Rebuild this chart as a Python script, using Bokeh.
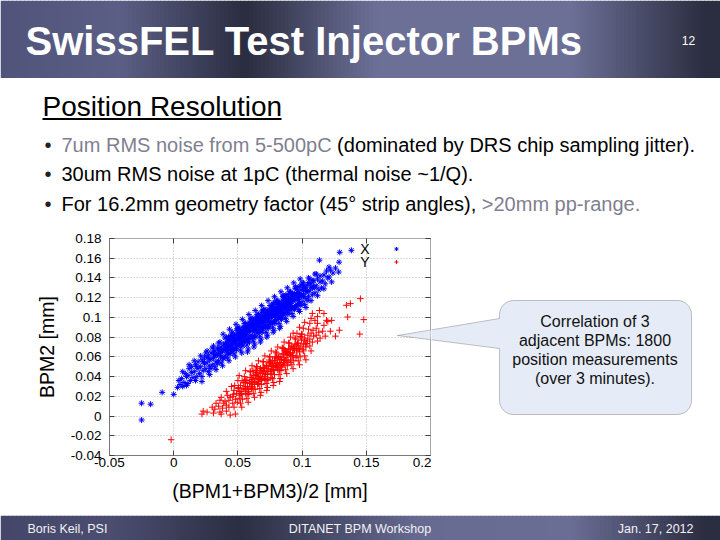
import math
from bokeh.plotting import figure
from bokeh.layouts import column, row
from bokeh.models import (Range1d, LinearAxis, FixedTicker, CustomJSTickFormatter,
                          Label, BoxAnnotation, PolyAnnotation, Legend, LegendItem)
from bokeh.embed import file_html
from bokeh.resources import INLINE

# ---------------- data ----------------
X_TICKS = [-0.05, 0.0, 0.05, 0.1, 0.15, 0.2]
Y_TICKS = [-0.04, -0.02, 0.0, 0.02, 0.04, 0.06, 0.08, 0.1, 0.12, 0.14, 0.16, 0.18]
X_LABEL = "(BPM1+BPM3)/2 [mm]"
Y_LABEL = "BPM2 [mm]"
SERIES = ["X", "Y"]

BLUE_POINTS = [
    (-0.025, 0.013), (-0.025, -0.004), (-0.018, 0.012), (-0.009, 0.024),
    (0.000, 0.022), (0.003, 0.029), (0.005, 0.032), (0.007, 0.030), (0.004, 0.036),
    (0.006, 0.038), (0.008, 0.034), (0.009, 0.043), (0.010, 0.031), (0.007, 0.045), (0.010, 0.040),
    (0.011, 0.041), (0.012, 0.048), (0.013, 0.036), (0.014, 0.044), (0.012, 0.052), (0.015, 0.039), (0.011, 0.033), (0.014, 0.050),
    (0.016, 0.045), (0.017, 0.052), (0.018, 0.040), (0.016, 0.056), (0.019, 0.048), (0.020, 0.043), (0.017, 0.036), (0.019, 0.055),
    (0.018, 0.050),
    (0.021, 0.050), (0.022, 0.057), (0.023, 0.046), (0.021, 0.061), (0.024, 0.053), (0.025, 0.048), (0.022, 0.040), (0.024, 0.060),
    (0.023, 0.055), (0.025, 0.064), (0.022, 0.035),
    (0.026, 0.054), (0.027, 0.061), (0.028, 0.050), (0.026, 0.066), (0.029, 0.058), (0.030, 0.052), (0.027, 0.045), (0.029, 0.064),
    (0.028, 0.057), (0.030, 0.069), (0.026, 0.059), (0.028, 0.042), (0.029, 0.048),
    (0.031, 0.059), (0.032, 0.066), (0.033, 0.055), (0.031, 0.071), (0.034, 0.062), (0.035, 0.056), (0.032, 0.050), (0.034, 0.069),
    (0.033, 0.062), (0.035, 0.074), (0.031, 0.064), (0.033, 0.047), (0.034, 0.053), (0.032, 0.061), (0.035, 0.066),
    (0.036, 0.063), (0.037, 0.070), (0.038, 0.059), (0.036, 0.075), (0.039, 0.067), (0.040, 0.061), (0.037, 0.054), (0.039, 0.073),
    (0.038, 0.066), (0.040, 0.079), (0.036, 0.068), (0.038, 0.051), (0.039, 0.058), (0.037, 0.065), (0.040, 0.070), (0.0365, 0.060),
    (0.0385, 0.083),
    (0.041, 0.068), (0.042, 0.075), (0.043, 0.064), (0.041, 0.080), (0.044, 0.072), (0.045, 0.066), (0.042, 0.059), (0.044, 0.078),
    (0.043, 0.071), (0.045, 0.084), (0.041, 0.073), (0.043, 0.056), (0.044, 0.063), (0.042, 0.070), (0.045, 0.075), (0.0415, 0.064),
    (0.0435, 0.088), (0.0425, 0.077), (0.0445, 0.069),
    (0.046, 0.073), (0.047, 0.080), (0.048, 0.069), (0.046, 0.085), (0.049, 0.077), (0.050, 0.071), (0.047, 0.063), (0.049, 0.083),
    (0.048, 0.076), (0.050, 0.089), (0.046, 0.078), (0.048, 0.060), (0.049, 0.067), (0.047, 0.075), (0.050, 0.080), (0.0465, 0.068),
    (0.0485, 0.093), (0.0475, 0.082), (0.0495, 0.073), (0.0455, 0.081),
    (0.051, 0.077), (0.052, 0.084), (0.053, 0.073), (0.051, 0.090), (0.054, 0.081), (0.055, 0.075), (0.052, 0.067), (0.054, 0.088),
    (0.053, 0.080), (0.055, 0.094), (0.051, 0.082), (0.053, 0.064), (0.054, 0.071), (0.052, 0.079), (0.055, 0.085), (0.0515, 0.072),
    (0.0535, 0.098), (0.0525, 0.087), (0.0545, 0.077), (0.0505, 0.086), (0.0535, 0.083),
    (0.056, 0.082), (0.057, 0.089), (0.058, 0.078), (0.056, 0.094), (0.059, 0.086), (0.060, 0.080), (0.057, 0.072), (0.059, 0.092),
    (0.058, 0.085), (0.060, 0.099), (0.056, 0.087), (0.058, 0.068), (0.059, 0.075), (0.057, 0.083), (0.060, 0.090), (0.0565, 0.077),
    (0.0585, 0.103), (0.0575, 0.091), (0.0595, 0.081), (0.0555, 0.090), (0.0585, 0.088), (0.0575, 0.065),
    (0.061, 0.086), (0.062, 0.093), (0.063, 0.082), (0.061, 0.099), (0.064, 0.090), (0.065, 0.084), (0.062, 0.076), (0.064, 0.097),
    (0.063, 0.089), (0.065, 0.103), (0.061, 0.091), (0.063, 0.073), (0.064, 0.080), (0.062, 0.088), (0.065, 0.094), (0.0615, 0.081),
    (0.0635, 0.107), (0.0625, 0.096), (0.0645, 0.086), (0.0605, 0.095), (0.0635, 0.092), (0.0625, 0.070),
    (0.066, 0.091), (0.067, 0.098), (0.068, 0.087), (0.066, 0.103), (0.069, 0.095), (0.070, 0.089), (0.067, 0.081), (0.069, 0.101),
    (0.068, 0.094), (0.070, 0.108), (0.066, 0.096), (0.068, 0.078), (0.069, 0.085), (0.067, 0.093), (0.070, 0.099), (0.0665, 0.086),
    (0.0685, 0.112), (0.0675, 0.101), (0.0695, 0.091), (0.0655, 0.100), (0.0685, 0.097), (0.0675, 0.075),
    (0.071, 0.095), (0.072, 0.102), (0.073, 0.091), (0.071, 0.108), (0.074, 0.099), (0.075, 0.093), (0.072, 0.085), (0.074, 0.106),
    (0.073, 0.098), (0.075, 0.112), (0.071, 0.100), (0.073, 0.082), (0.074, 0.089), (0.072, 0.097), (0.075, 0.103), (0.0715, 0.090),
    (0.0735, 0.117), (0.0725, 0.105), (0.0745, 0.095), (0.0705, 0.104), (0.0735, 0.101), (0.0725, 0.080),
    (0.076, 0.100), (0.077, 0.107), (0.078, 0.096), (0.076, 0.112), (0.079, 0.104), (0.080, 0.098), (0.077, 0.090), (0.079, 0.110),
    (0.078, 0.103), (0.080, 0.117), (0.076, 0.105), (0.078, 0.087), (0.079, 0.094), (0.077, 0.102), (0.080, 0.108), (0.0765, 0.095),
    (0.0785, 0.121), (0.0775, 0.110), (0.0795, 0.100), (0.0755, 0.109), (0.0785, 0.106), (0.0775, 0.085),
    (0.081, 0.104), (0.082, 0.111), (0.083, 0.100), (0.081, 0.117), (0.084, 0.108), (0.085, 0.102), (0.082, 0.094), (0.084, 0.115),
    (0.083, 0.107), (0.085, 0.121), (0.081, 0.109), (0.083, 0.091), (0.084, 0.098), (0.082, 0.106), (0.085, 0.112), (0.0815, 0.099),
    (0.0835, 0.126), (0.0825, 0.114), (0.0845, 0.104), (0.0805, 0.113), (0.0835, 0.110), (0.0825, 0.089),
    (0.086, 0.109), (0.087, 0.116), (0.088, 0.105), (0.086, 0.121), (0.089, 0.113), (0.090, 0.107), (0.087, 0.099), (0.089, 0.119),
    (0.088, 0.112), (0.090, 0.126), (0.086, 0.114), (0.088, 0.096), (0.089, 0.103), (0.087, 0.111), (0.090, 0.117), (0.0865, 0.104),
    (0.0885, 0.130), (0.0875, 0.119), (0.0895, 0.109), (0.0855, 0.118),
    (0.091, 0.114), (0.092, 0.121), (0.093, 0.110), (0.091, 0.126), (0.094, 0.118), (0.095, 0.112), (0.092, 0.104), (0.094, 0.124),
    (0.093, 0.117), (0.095, 0.131), (0.091, 0.119), (0.093, 0.101), (0.094, 0.108), (0.092, 0.116), (0.095, 0.122), (0.0915, 0.109),
    (0.0935, 0.135), (0.0925, 0.124),
    (0.096, 0.118), (0.097, 0.125), (0.098, 0.114), (0.096, 0.130), (0.099, 0.122), (0.100, 0.116), (0.097, 0.108), (0.099, 0.128),
    (0.098, 0.121), (0.100, 0.135), (0.096, 0.123), (0.098, 0.106), (0.099, 0.112), (0.097, 0.120), (0.0965, 0.113), (0.0985, 0.139),
    (0.101, 0.123), (0.102, 0.130), (0.103, 0.119), (0.101, 0.135), (0.104, 0.127), (0.105, 0.121), (0.102, 0.113), (0.104, 0.133),
    (0.103, 0.126), (0.105, 0.140), (0.101, 0.128), (0.103, 0.110), (0.1045, 0.117),
    (0.106, 0.127), (0.107, 0.134), (0.108, 0.123), (0.106, 0.139), (0.109, 0.131), (0.110, 0.125), (0.107, 0.117), (0.109, 0.137),
    (0.108, 0.130), (0.110, 0.144),
    (0.111, 0.132), (0.112, 0.139), (0.113, 0.128), (0.111, 0.144), (0.114, 0.136), (0.115, 0.130), (0.112, 0.122), (0.114, 0.142),
    (0.116, 0.137), (0.117, 0.143), (0.118, 0.134), (0.119, 0.147), (0.117, 0.129), (0.120, 0.140),
    (0.121, 0.141), (0.122, 0.148), (0.123, 0.136), (0.124, 0.145), (0.121, 0.151),
    (0.1135, 0.158), (0.1288, 0.156), (0.1293, 0.166), (0.1384, 0.168), (0.1285, 0.146), (0.126, 0.150),
    # dense core
    (0.0403, 0.073), (0.0418, 0.0665), (0.0427, 0.080), (0.0441, 0.0716), (0.0452, 0.0806), (0.0463, 0.0667),
    (0.0471, 0.0774), (0.0486, 0.0718), (0.0494, 0.0885), (0.0507, 0.0768), (0.0518, 0.0848), (0.0526, 0.0745),
    (0.0539, 0.0827), (0.0548, 0.0906), (0.0556, 0.0803), (0.0569, 0.0875), (0.0577, 0.0783), (0.0588, 0.0923),
    (0.0596, 0.087), (0.0604, 0.0978), (0.0613, 0.0796), (0.0622, 0.0934), (0.0631, 0.0863), (0.0639, 0.100),
    (0.0648, 0.0909), (0.0657, 0.0997), (0.0663, 0.0853), (0.0672, 0.0961), (0.0681, 0.0899), (0.0689, 0.1067),
    (0.0697, 0.0944), (0.0703, 0.102), (0.0712, 0.0918), (0.0719, 0.0995), (0.0728, 0.1073), (0.0737, 0.0971),
    (0.0743, 0.1037), (0.0752, 0.0945), (0.0761, 0.1084), (0.0768, 0.103), (0.0776, 0.1138), (0.0784, 0.0955),
    (0.0791, 0.1092), (0.0798, 0.1018), (0.0806, 0.1156), (0.0813, 0.1062), (0.0822, 0.115), (0.0829, 0.1007),
    (0.0837, 0.1114), (0.0846, 0.1053), (0.0853, 0.1219), (0.0861, 0.1097), (0.0869, 0.1174), (0.0877, 0.1072),
    (0.0884, 0.1148), (0.0893, 0.1226), (0.0902, 0.1125), (0.0911, 0.1193), (0.0919, 0.1101), (0.0928, 0.1239),
    (0.0937, 0.1187), (0.0946, 0.1296), (0.0955, 0.1114), (0.0964, 0.1253), (0.0973, 0.1181), (0.0982, 0.1319),
    (0.0991, 0.1228), (0.1003, 0.1319), (0.1014, 0.1209), (0.1026, 0.130), (0.1038, 0.1261), (0.1052, 0.1354),
    (0.1067, 0.1308), (0.1083, 0.1373), (0.1098, 0.1307),
    (0.0412, 0.0669), (0.0436, 0.0791), (0.0457, 0.0671), (0.0478, 0.0791), (0.0499, 0.088), (0.0513, 0.0793),
    (0.0531, 0.076), (0.0552, 0.0879), (0.0573, 0.0759), (0.0592, 0.0947), (0.0609, 0.0892), (0.0627, 0.0879),
    (0.0644, 0.0975), (0.0668, 0.0877), (0.0685, 0.1043), (0.0708, 0.0994), (0.0724, 0.0909), (0.0747, 0.1051),
    (0.0764, 0.1017), (0.0781, 0.1152), (0.0802, 0.1032), (0.0818, 0.1147), (0.0834, 0.1022), (0.0857, 0.1143),
    (0.0873, 0.1228), (0.0889, 0.1143), (0.0907, 0.111), (0.0924, 0.1225), (0.0941, 0.1101), (0.0959, 0.1288),
    (0.0977, 0.1235), (0.0996, 0.1222),
]

RED_POINTS = [
    (-0.002, -0.024),
    (0.022, 0.002), (0.023, 0.005), (0.026, 0.004),
    (0.030, 0.009), (0.032, 0.007), (0.033, 0.013), (0.031, 0.003),
    (0.035, 0.010), (0.036, 0.004), (0.037, 0.002), (0.036, 0.016), (0.038, 0.008), (0.039, 0.013), (0.037, 0.019),
    (0.040, 0.015), (0.041, 0.005), (0.042, 0.021), (0.043, 0.016), (0.041, 0.011), (0.044, 0.001), (0.041, 0.025), (0.043, 0.009),
    (0.044, 0.019),
    (0.046, 0.020), (0.046, 0.013), (0.047, 0.026), (0.045, 0.030), (0.048, 0.017), (0.047, 0.009), (0.048, 0.002), (0.049, 0.023),
    (0.0475, 0.031), (0.0495, 0.014), (0.0465, 0.022),
    (0.051, 0.025), (0.051, 0.018), (0.052, 0.031), (0.050, 0.036), (0.053, 0.022), (0.052, 0.013), (0.054, 0.028), (0.051, 0.041),
    (0.053, 0.009), (0.0545, 0.034), (0.0525, 0.025), (0.0505, 0.029), (0.0535, 0.017),
    (0.056, 0.030), (0.056, 0.023), (0.057, 0.036), (0.055, 0.040), (0.058, 0.027), (0.057, 0.018), (0.059, 0.033), (0.056, 0.046),
    (0.058, 0.014), (0.0595, 0.039), (0.0575, 0.030), (0.0555, 0.034), (0.0585, 0.022), (0.0565, 0.027), (0.0595, 0.045),
    (0.061, 0.035), (0.061, 0.028), (0.062, 0.041), (0.060, 0.045), (0.063, 0.032), (0.062, 0.023), (0.064, 0.038), (0.061, 0.051),
    (0.063, 0.019), (0.0645, 0.044), (0.0625, 0.035), (0.0605, 0.039), (0.0635, 0.027), (0.0615, 0.032), (0.0645, 0.050),
    (0.0635, 0.041), (0.0605, 0.030),
    (0.066, 0.040), (0.066, 0.033), (0.067, 0.046), (0.065, 0.050), (0.068, 0.037), (0.067, 0.028), (0.069, 0.043), (0.066, 0.056),
    (0.068, 0.024), (0.0695, 0.049), (0.0675, 0.040), (0.0655, 0.044), (0.0685, 0.032), (0.0665, 0.037), (0.0695, 0.055),
    (0.0685, 0.046), (0.0655, 0.035), (0.0675, 0.021),
    (0.071, 0.045), (0.071, 0.038), (0.072, 0.051), (0.070, 0.055), (0.073, 0.042), (0.072, 0.033), (0.074, 0.048), (0.071, 0.061),
    (0.073, 0.029), (0.0745, 0.054), (0.0725, 0.045), (0.0705, 0.049), (0.0735, 0.037), (0.0715, 0.042), (0.0745, 0.060),
    (0.0735, 0.051), (0.0705, 0.040), (0.0725, 0.026),
    (0.076, 0.050), (0.076, 0.043), (0.077, 0.056), (0.075, 0.060), (0.078, 0.047), (0.077, 0.038), (0.079, 0.053), (0.076, 0.066),
    (0.078, 0.034), (0.0795, 0.059), (0.0775, 0.050), (0.0755, 0.054), (0.0785, 0.042), (0.0765, 0.047), (0.0795, 0.065),
    (0.0785, 0.056), (0.0755, 0.045), (0.0775, 0.031),
    (0.081, 0.054), (0.081, 0.047), (0.082, 0.060), (0.080, 0.064), (0.083, 0.051), (0.082, 0.042), (0.084, 0.057), (0.081, 0.070),
    (0.083, 0.038), (0.0845, 0.063), (0.0825, 0.054), (0.0805, 0.058), (0.0835, 0.046), (0.0815, 0.051), (0.0845, 0.069),
    (0.0835, 0.060), (0.0805, 0.049), (0.0825, 0.035),
    (0.086, 0.059), (0.086, 0.052), (0.087, 0.065), (0.085, 0.069), (0.088, 0.056), (0.087, 0.047), (0.089, 0.062), (0.086, 0.075),
    (0.088, 0.043), (0.0895, 0.068), (0.0875, 0.059), (0.0855, 0.063), (0.0885, 0.051), (0.0865, 0.056), (0.0895, 0.074),
    (0.0885, 0.065), (0.0855, 0.054),
    (0.091, 0.064), (0.091, 0.057), (0.092, 0.070), (0.090, 0.074), (0.093, 0.061), (0.092, 0.052), (0.094, 0.067), (0.091, 0.080),
    (0.093, 0.048), (0.0945, 0.073), (0.0925, 0.064), (0.0905, 0.068), (0.0935, 0.056), (0.0915, 0.061), (0.0945, 0.079),
    (0.0935, 0.070),
    (0.096, 0.068), (0.096, 0.061), (0.097, 0.074), (0.095, 0.078), (0.098, 0.065), (0.097, 0.056), (0.099, 0.071), (0.096, 0.084),
    (0.098, 0.052), (0.0995, 0.077), (0.0975, 0.068), (0.0955, 0.072), (0.0985, 0.060), (0.0995, 0.083),
    (0.101, 0.073), (0.101, 0.066), (0.102, 0.079), (0.100, 0.083), (0.103, 0.070), (0.102, 0.061), (0.104, 0.076), (0.101, 0.089),
    (0.103, 0.057), (0.1045, 0.082), (0.1025, 0.073),
    (0.106, 0.078), (0.106, 0.071), (0.107, 0.084), (0.105, 0.088), (0.108, 0.075), (0.107, 0.066), (0.109, 0.081), (0.106, 0.094),
    (0.1085, 0.087),
    (0.111, 0.082), (0.112, 0.076), (0.111, 0.089), (0.113, 0.085), (0.114, 0.079), (0.112, 0.094),
    (0.116, 0.086), (0.117, 0.092), (0.118, 0.081), (0.119, 0.097),
    (0.098, 0.090), (0.102, 0.095), (0.107, 0.099), (0.110, 0.097), (0.112, 0.101), (0.117, 0.104), (0.120, 0.096), (0.123, 0.097),
    (0.129, 0.087), (0.122, 0.086), (0.126, 0.081), (0.108, 0.104), (0.093, 0.084), (0.1135, 0.107),
    (0.1454, 0.119), (0.1376, 0.114), (0.1345, 0.1123), (0.148, 0.0978), (0.1449, 0.0831), (0.1355, 0.1004),
    # dense core
    (0.0502, 0.0278), (0.0517, 0.0212), (0.0533, 0.0357), (0.0549, 0.0273), (0.0562, 0.0365), (0.0578, 0.023),
    (0.0591, 0.0342), (0.0604, 0.0285), (0.0617, 0.0457), (0.0629, 0.0339), (0.0641, 0.042), (0.0653, 0.0321),
    (0.0664, 0.0402), (0.0676, 0.0483), (0.0688, 0.0385), (0.0699, 0.0455), (0.0711, 0.0367), (0.0722, 0.0507),
    (0.0733, 0.0457), (0.0744, 0.0568), (0.0756, 0.0389), (0.0767, 0.053), (0.0778, 0.046), (0.0789, 0.0601),
    (0.0801, 0.0512), (0.0812, 0.0602), (0.0823, 0.0463), (0.0834, 0.0573), (0.0846, 0.0515), (0.0857, 0.0685),
    (0.0868, 0.0566), (0.0879, 0.0646), (0.0891, 0.0547), (0.0903, 0.0629), (0.0915, 0.071), (0.0927, 0.0612),
    (0.0939, 0.0683), (0.0952, 0.0595), (0.0964, 0.0737), (0.0977, 0.0689), (0.0991, 0.0802), (0.1006, 0.0677),
    (0.1021, 0.0771), (0.1037, 0.0736),
    (0.0524, 0.0229), (0.0556, 0.0359), (0.0585, 0.0247), (0.0611, 0.0371), (0.0635, 0.0464), (0.0659, 0.0387),
    (0.0682, 0.0359), (0.0705, 0.0481), (0.0728, 0.0363), (0.0751, 0.0554), (0.0773, 0.0505), (0.0795, 0.0496),
    (0.0817, 0.0597), (0.0839, 0.0498), (0.0862, 0.067), (0.0884, 0.0621), (0.0908, 0.0544), (0.0933, 0.0687),
    (0.0958, 0.0661), (0.0984, 0.0806),
]

BLUE_X = [pt[0] for pt in BLUE_POINTS]
BLUE_Y = [pt[1] for pt in BLUE_POINTS]
RED_X = [pt[0] for pt in RED_POINTS]
RED_Y = [pt[1] for pt in RED_POINTS]

SLIDE_TITLE = "SwissFEL Test Injector BPMs"
PAGE_NO = "12"
SECTION = "Position Resolution"
CALLOUT_LINES = ["Correlation of 3", "adjacent BPMs: 1800", "position measurements", "(over 3 minutes)."]
FOOTER = ["Boris Keil, PSI", "DITANET BPM Workshop", "Jan. 17, 2012"]

FONT = "Liberation Sans"
GRAY = "#7f7f90"

X_MIN, X_MAX = -0.05, 0.2
Y_MIN, Y_MAX = -0.04, 0.18
FRAME_L, FRAME_R, FRAME_T, FRAME_B = 109, 430, 238, 455   # page pixels of the plot frame


# ---------------- helpers ----------------
def hex2rgb(h):
    return tuple(int(h[i:i + 2], 16) for i in (1, 3, 5))


def grad(stops, x):
    for (x0, c0), (x1, c1) in zip(stops[:-1], stops[1:]):
        if x0 <= x <= x1:
            t = (x - x0) / (x1 - x0) if x1 > x0 else 0
            a, b = hex2rgb(c0), hex2rgb(c1)
            return "#%02x%02x%02x" % tuple(int(round(a[k] + (b[k] - a[k]) * t)) for k in range(3))
    return stops[-1][1]


def deco_fig(x0, x1, y0, y1, **kw):
    opts = dict(min_border=0)
    opts.update(kw)
    f = figure(width=x1 - x0, height=y1 - y0, x_range=Range1d(x0, x1), y_range=Range1d(y1, y0),
               output_backend="svg", toolbar_location=None, title=None,
               x_axis_type=None, y_axis_type=None, outline_line_color=None,
               background_fill_color="white", border_fill_color="white", **opts)
    f.grid.visible = False
    return f


def add_label(f, x, y, text, size, color="black", bold=False, align="left", page=False):
    kw = dict(x_range_name="page", y_range_name="page") if page else {}
    f.add_layout(Label(x=x, y=y, text=text, text_font=FONT, text_font_size=f"{size}px",
                       text_color=color, text_font_style="bold" if bold else "normal",
                       text_align=align, text_baseline="middle", **kw))


def band(f, stops, y0, y1, step=4):
    lefts = list(range(0, 720, step))
    f.quad(left=lefts, right=[v + step + 0.6 for v in lefts], top=[y0] * len(lefts),
           bottom=[y1] * len(lefts), fill_color=[grad(stops, v + step / 2) for v in lefts],
           line_color=None)


# ---------------- header ----------------
HEADER_STOPS = [(0, "#50547a"), (120, "#5b5f85"), (245, "#2a2c3f"), (375, "#6c7097"),
                (570, "#6c7097"), (705, "#2b2d40"), (720, "#2b2d40")]
FOOTER_STOPS = [(0, "#44476a"), (110, "#4b4e70"), (240, "#2c2e43"), (420, "#676b92"),
                (570, "#6a6e95"), (705, "#2b2d40"), (720, "#2b2d40")]

header = deco_fig(0, 720, 0, 78)
band(header, HEADER_STOPS, 0, 78)
add_label(header, 25, 40, SLIDE_TITLE, 40, color="white", bold=True)
add_label(header, 688, 40, PAGE_NO, 12, color="white", align="center")

# ---------------- text block ----------------
text = deco_fig(0, 720, 78, 228)
add_label(text, 42, 106, SECTION, 28)
text.add_layout(BoxAnnotation(left=42, right=281, top=117.5, bottom=119.5,
                              fill_color="black", fill_alpha=1, line_color=None))
BULLET_Y = [144, 173.5, 203]
for by in BULLET_Y:
    add_label(text, 44, by, "\u2022", 20, color="#222222")
add_label(text, 61, BULLET_Y[0], "7um RMS noise from 5-500pC", 20, color=GRAY)
add_label(text, 336.6, BULLET_Y[0], "(dominated by DRS chip sampling jitter).", 20)
add_label(text, 61, BULLET_Y[1], "30um RMS noise at 1pC (thermal noise ~1/Q).", 20)
add_label(text, 61, BULLET_Y[2], "For 16.2mm geometry factor (45\u00b0 strip angles),", 20)
add_label(text, 481.3, BULLET_Y[2], ">20mm pp-range.", 20, color=GRAY)

# ---------------- scatter plot (page x 0..431, y 228..515) ----------------
p = figure(width=431, height=287,
           x_range=Range1d(X_MIN, X_MAX), y_range=Range1d(Y_MIN, Y_MAX),
           output_backend="svg", toolbar_location=None, title=None,
           min_border_left=FRAME_L, min_border_right=1, min_border_top=10, min_border_bottom=60,
           background_fill_color="white", border_fill_color="white",
           outline_line_color="#9c9c9c")
p.extra_x_ranges = {"page": Range1d(FRAME_L, FRAME_R)}
p.extra_y_ranges = {"page": Range1d(FRAME_B, FRAME_T)}

fmt = CustomJSTickFormatter(code="return String(Math.round(tick*1000)/1000);")
blank = CustomJSTickFormatter(code="return '';")

xa = p.xaxis[0]
ya = p.yaxis[0]
xa.ticker = FixedTicker(ticks=X_TICKS)
ya.ticker = FixedTicker(ticks=Y_TICKS)
xa.formatter = fmt
ya.formatter = fmt
xa.axis_label = X_LABEL
ya.axis_label = Y_LABEL
for ax in (xa, ya):
    ax.major_tick_in = 5
    ax.major_tick_out = 0
    ax.minor_tick_line_color = None
    ax.axis_line_color = "#7a7a7a"
    ax.major_tick_line_color = "#404040"
    ax.major_label_text_font = FONT
    ax.major_label_text_font_size = "13.5px"
    ax.major_label_text_color = "black"
    ax.axis_label_text_font = FONT
    ax.axis_label_text_font_size = "19.5px"
    ax.axis_label_text_font_style = "normal"
    ax.axis_label_text_color = "black"
xa.major_label_standoff = 2
xa.axis_label_standoff = 10
ya.major_label_standoff = 8
ya.axis_label_standoff = 10

for place, ticks in (("above", X_TICKS), ("right", Y_TICKS)):
    ax = LinearAxis(ticker=FixedTicker(ticks=ticks), formatter=blank,
                    major_tick_in=5, major_tick_out=0, minor_tick_line_color=None,
                    axis_line_color="#a8a8a8", major_tick_line_color="#404040",
                    major_label_text_font_size="0px", major_label_standoff=0)
    p.add_layout(ax, place)

p.xgrid.ticker = FixedTicker(ticks=X_TICKS)
p.ygrid.ticker = FixedTicker(ticks=Y_TICKS)
for g in (p.xgrid, p.ygrid):
    g.grid_line_color = "#b4b4b4"
    g.grid_line_dash = "1 2"
    g.grid_line_width = 1

# callout shape (page coordinates), shared by the plot and the panel to its right
L, R, T, B, r = 499, 691, 300, 414, 14
CX, CY = [L, 397, L, L], [318, 335, 348, B - r]


def arc(cx, cy, a0, a1, n=8):
    for k in range(1, n + 1):
        a = math.radians(a0 + (a1 - a0) * k / n)
        CX.append(cx + r * math.cos(a))
        CY.append(cy + r * math.sin(a))


arc(L + r, B - r, 180, 90)
CX.append(R - r); CY.append(B)
arc(R - r, B - r, 90, 0)
CX.append(R); CY.append(T + r)
arc(R - r, T + r, 0, -90)
CX.append(L + r); CY.append(T)
arc(L + r, T + r, -90, -180)

rb = p.scatter(BLUE_X, BLUE_Y, marker="asterisk", size=6, line_color="#0000ff", line_width=1)
rr = p.scatter(RED_X, RED_Y, marker="cross", size=6.5, line_color="#ff0000", line_width=1)

# pointer part of the callout that lies inside the plot frame (page px -> plot units)
CX_PLOT = [X_MIN + (v - FRAME_L) / (FRAME_R - FRAME_L) * (X_MAX - X_MIN) for v in CX]
CY_PLOT = [Y_MIN + (FRAME_B - v) / (FRAME_B - FRAME_T) * (Y_MAX - Y_MIN) for v in CY]
p.add_layout(PolyAnnotation(xs=CX_PLOT, ys=CY_PLOT, fill_color="#e6ecf7", fill_alpha=1,
                            line_color="#3c3c3c", line_width=1))

leg = Legend(items=[LegendItem(label=" ", renderers=[rb]), LegendItem(label=" ", renderers=[rr])],
             location=(282, 187.5), padding=0, margin=0, spacing=0,
             glyph_width=10, glyph_height=13, label_height=13, label_width=1,
             label_standoff=0, label_text_font_size="6px",
             border_line_alpha=0, background_fill_alpha=0)
p.add_layout(leg)
add_label(p, 364.5, 248, SERIES[0], 14, align="center", page=True)
add_label(p, 364.5, 261, SERIES[1], 14, align="center", page=True)

# ---------------- callout panel (page x 431..720; frame rows aligned with the plot frame) ----------------
call = deco_fig(431, 720, FRAME_T, FRAME_B, min_border_top=10, min_border_bottom=60,
                min_border_left=0, min_border_right=0)
call.height = 287
call.add_layout(PolyAnnotation(xs=CX, ys=CY, fill_color="#e6ecf7", fill_alpha=1,
                               line_color="#3c3c3c", line_width=1))
for k, line in enumerate(CALLOUT_LINES):
    add_label(call, 594.5, 320.5 + 19 * k, line, 16, color="#111111", align="center")

# ---------------- footer ----------------
footer = deco_fig(0, 720, 515, 540)
band(footer, FOOTER_STOPS, 515, 540)
add_label(footer, 27, 528, FOOTER[0], 12.5, color="#f2f2f6")
add_label(footer, 359.5, 528, FOOTER[1], 12.5, color="#f2f2f6", align="center")
add_label(footer, 693, 528, FOOTER[2], 12.5, color="#f2f2f6", align="right")

page = column(header, text, row(p, call), footer)
open("out.html", "w").write(file_html(page, INLINE))
